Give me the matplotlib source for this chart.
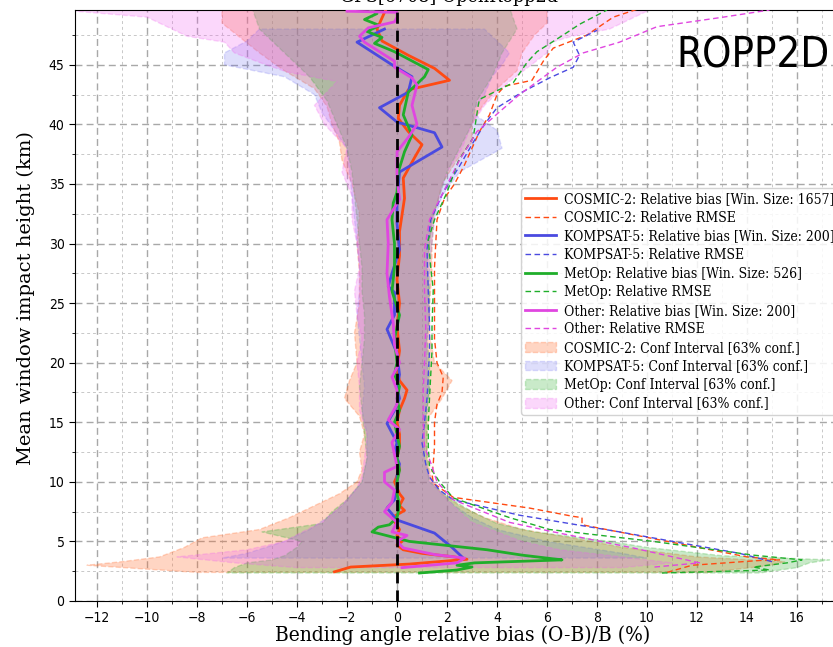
import matplotlib
matplotlib.use("Agg")
import matplotlib.pyplot as plt
from matplotlib.lines import Line2D
from matplotlib.patches import Patch
from matplotlib.ticker import MultipleLocator

# ---------------- data ----------------
series_names = ["COSMIC-2", "KOMPSAT-5", "MetOp", "Other"]
win_sizes = [1657, 200, 526, 200]

# relative bias profiles (height km, value %)
cos_bias_h = [2.45, 2.85, 3.1, 3.5, 3.7, 4.0, 4.3, 4.7, 5.0, 5.5, 6.0, 7.0, 7.6, 8.0, 8.6, 9.0, 10.0, 11, 12, 13, 14, 15, 16, 17, 17.7,
              18.5, 19.5, 21, 23, 25, 27, 29, 31, 33.8, 35.5, 37.2, 38.3, 39.4, 40.5, 41.6, 42.9, 43.7, 44.7, 45.8,
              47.0, 48.0, 49.4, 49.8]
cos_bias_x = [-2.5, -1.85, 0.5, 2.8, 2.3, 1.0, 0.25, 0.0, 0.2, 0.0, 0.1, -0.2, 0.3, 0.1, 0.25, 0.1, -0.1, 0.1, 0.0, 0.1, 0.1, 0.0, 0.1,
              0.3, 0.4, 0.1, 0.0, 0.1, 0.0, 0.1, 0.0, 0.1, 0.1, 0.3, 0.25, 0.7, 1.0, 0.45, 0.05, 0.1, 0.45, 2.1,
              1.5, 0.45, -0.6, -0.8, -0.5, -0.4]

kom_bias_h = [3.6, 4.5, 5.7, 6.8, 7.8, 8.5, 9.5, 10.5, 11.5, 12.5, 13.3, 14.9, 16, 17, 18, 19, 20.8, 22.8, 24, 25.9,
              26.4, 27.5, 29.5, 31.7, 33.5, 36.0, 38.1, 39.3, 40.2, 41.4, 42.7, 44.0, 45.0, 46.9, 48.0]
kom_bias_x = [2.65, 2.2, 1.5, 0.0, -0.4, -0.1, 0.0, 0.0, 0.1, -0.1, 0.0, -0.4, -0.1, 0.1, 0.0, 0.1, 0.0, -0.4, -0.1,
              -0.1, -0.35, -0.2, 0.1, 0.0, 0.0, 0.1, 1.8, 1.5, 0.0, -0.7, 0.45, 0.6, -0.2, -1.6, -0.5]

met_bias_h = [2.35, 2.6, 2.85, 3.0, 3.2, 3.45, 3.6, 3.85, 4.3, 5.0, 5.7, 5.8, 6.2, 6.4, 7, 8, 9, 10, 11, 12, 13, 14, 15,
              16, 17, 18, 19, 20, 22, 24, 26, 28, 30, 32, 33.4, 34.3, 36.0, 37.7, 39.1, 40.8, 42.7, 44.0, 44.6,
              46.1, 46.8, 47.3, 47.8, 48.3, 48.8, 49.3, 49.8]
met_bias_x = [0.9, 2.4, 3.0, 2.4, 3.1, 6.6, 6.0, 5.0, 3.6, 0.5, -0.8, -1.0, -0.75, -0.3, 0.0, 0.1, 0.0, 0.0, 0.1, 0.0,
              0.1, 0.0, -0.1, 0.1, 0.0, 0.1, -0.1, 0.0, -0.1, 0.1, -0.2, -0.1, -0.1, -0.2, -0.15, 0.0, 0.05, 0.3,
              0.6, 0.25, 0.45, 1.1, 1.25, -0.1, -0.9, -0.6, -1.2, -0.7, -1.3, -0.8, -1.2]

oth_bias_h = [2.8, 3.2, 3.6, 3.9, 4.45, 5.0, 5.5, 5.8, 6.6, 7.5, 8.3, 9.3, 10.0, 10.8, 11.3, 12.3, 13.3, 14.4, 15.2,
              16.5, 17.7, 18.8, 20.0, 21.5, 23.3, 25.5, 27.5, 30, 32.0, 33.7, 35.5, 37.7, 38.9, 40.0, 41.6, 43.3,
              43.9, 44.8, 45.3, 46.9, 47.4, 48.1, 48.6, 49.0, 49.4, 49.5]
oth_bias_x = [0.2, 2.4, 2.7, 1.5, 0.25, 0.0, 0.4, -0.2, 0.0, -0.5, -0.2, -0.1, -0.5, -0.5, 0.0, -0.1, -0.2, 0.1, -0.35,
              0.0, 0.0, -0.2, 0.1, -0.1, -0.15, -0.3, -0.4, -0.35, -0.4, 0.1, 0.0, 0.0, 0.45, 0.8, 0.6, 0.8, 0.6,
              -0.1, -0.1, -1.3, -1.5, -1.15, -0.1, 0.0, 0.0, -2.0]

# relative RMSE profiles
cos_rmse_h = [2.4, 3.0, 3.4, 3.45, 3.7, 6.4, 7.0, 7.1, 7.8, 8.7, 9.9, 10.7, 11.5, 13, 15, 16.5, 17.5, 18.8, 20, 22,
              24, 26, 28, 30, 32, 33.8, 35, 36.6, 38, 39.4, 40.8, 42.5, 43.2, 43.7, 45.3, 46.4, 47.5, 49.0, 49.8]
cos_rmse_x = [10.8, 11.8, 14.5, 15.3, 14.0, 7.4, 7.4, 7.05, 5.3, 2.25, 1.45, 1.4, 1.45, 1.5, 1.5, 1.6, 1.8, 1.85,
              1.6, 1.5, 1.5, 1.5, 1.5, 1.55, 1.6, 1.9, 2.3, 2.7, 3.0, 3.3, 3.7, 4.0, 4.3, 5.4, 5.85, 6.25, 7.6,
              8.65, 9.8]

kom_rmse_h = [3.3, 4.0, 5.8, 7.2, 8.5, 9.3, 10.4, 11.5, 13.3, 15, 17, 18.8, 21, 23.3, 26, 29.5, 32, 34.3, 36.5, 38.5,
              40, 41.4, 42.7, 43.9, 44.8, 45.8, 46.9, 47.9]
kom_rmse_x = [15.0, 13.7, 8.9, 4.9, 2.25, 1.7, 1.3, 1.15, 1.0, 1.1, 1.2, 1.25, 1.3, 1.3, 1.25, 1.2, 1.35, 1.85, 2.5,
              3.05, 3.5, 4.0, 5.0, 6.1, 7.05, 7.3, 7.05, 8.0]

met_rmse_h = [2.35, 2.6, 2.85, 3.2, 3.45, 3.85, 5.0, 6.0, 7.0, 8.65, 10, 11.3, 13, 14.9, 17, 19, 21, 23, 26.1, 28,
              30.3, 32, 34.3, 36.9, 38.9, 41.6, 42.1, 43.5, 45.2, 46.1, 47.5, 48.4, 49.0, 49.6]
met_rmse_x = [10.6, 14.9, 14.25, 15.6, 16.2, 14.25, 10.25, 6.1, 4.5, 2.25, 1.7, 1.3, 1.25, 1.25, 1.3, 1.35, 1.4, 1.4,
              1.45, 1.35, 1.25, 1.5, 2.0, 2.45, 3.05, 3.25, 3.3, 4.65, 5.2, 5.6, 6.65, 7.3, 7.85, 8.4]

oth_rmse_h = [2.85, 3.2, 4.45, 5.8, 6.6, 8.5, 10, 11.3, 13, 15, 17.7, 20, 23, 26, 29.5, 32, 34.3, 37, 39.4, 41.6,
              42.5, 44.8, 46.0, 46.9, 48.2, 49.0, 49.6]
oth_rmse_x = [10.3, 12.1, 9.45, 6.25, 4.5, 2.25, 1.6, 1.4, 1.1, 1.05, 1.05, 1.1, 1.15, 1.1, 1.1, 1.3, 1.85, 2.5, 3.2,
              4.4, 4.9, 6.4, 7.45, 8.9, 10.4, 13.05, 14.9]

# confidence intervals (63%)
cos_ci_h = [2.4, 3.0, 3.3, 3.7, 4.5, 5.3, 6.0, 7.0, 8.0, 9.0, 10.0, 11, 12.5, 14, 15.5, 17, 18.5, 20, 22.5, 25, 27.5,
            30, 32.5, 35, 37, 38.5, 40, 41.5, 43, 44.5, 46, 47.5, 48.5, 49.8]
cos_ci_lo = [-8.0, -12.4, -11.0, -9.5, -8.5, -7.8, -5.5, -4.3, -3.3, -2.3, -1.6, -1.4, -1.5, -1.3, -1.5, -2.1, -1.9,
             -1.6, -1.7, -1.5, -1.5, -1.6, -1.5, -1.8, -2.2, -2.3, -2.6, -2.8, -3.3, -4.5, -5.5, -6.4, -7.0, -7.0]
cos_ci_hi = [12.5, 15.0, 15.5, 12.0, 9.0, 7.0, 5.0, 3.5, 2.5, 1.8, 1.4, 1.3, 1.2, 1.2, 1.3, 1.8, 2.2, 1.5, 1.3, 1.3,
             1.4, 1.4, 1.5, 1.8, 2.4, 3.0, 3.0, 3.4, 4.0, 4.8, 5.0, 5.5, 6.0, 6.0]

kom_ci_h = [3.6, 4.0, 5.0, 6.0, 7.0, 8.0, 9.0, 10, 12, 14, 16, 18, 20, 22, 24, 26, 28, 30, 32, 34, 36, 38, 39.5, 41,
            42.5, 44, 45, 46, 47, 48]
kom_ci_lo = [-7.0, -6.0, -4.5, -3.5, -2.8, -2.2, -1.8, -1.4, -1.2, -1.2, -1.4, -1.3, -1.4, -1.5, -1.6, -1.5, -1.5,
             -1.6, -1.7, -1.8, -1.9, -2.0, -2.5, -3.0, -3.3, -4.5, -6.9, -6.9, -6.0, -5.5]
kom_ci_hi = [10.0, 9.0, 6.0, 4.0, 3.0, 2.3, 1.8, 1.3, 1.1, 1.1, 1.2, 1.3, 1.2, 1.2, 1.3, 1.3, 1.3, 1.4, 1.5, 1.8, 2.5,
             4.2, 4.0, 3.0, 3.5, 3.8, 4.2, 4.5, 4.0, 3.5]

met_ci_h = [2.35, 2.8, 3.2, 3.45, 3.8, 4.5, 5.0, 5.8, 6.5, 7.5, 8.5, 10, 12, 14, 16, 18, 20, 22, 24, 26, 28, 30, 32,
            34, 36, 38, 40, 42, 44, 46, 48, 49.8]
met_ci_lo = [-6.8, -6.5, -6.0, -5.0, -4.5, -4.0, -3.8, -5.4, -3.0, -2.6, -2.0, -1.4, -1.2, -1.3, -1.4, -1.5, -1.4,
             -1.3, -1.3, -1.4, -1.4, -1.5, -1.6, -1.7, -1.8, -2.0, -2.4, -2.8, -3.5, -4.5, -5.5, -5.8]
met_ci_hi = [14.5, 16.0, 16.5, 17.3, 13.0, 10.0, 8.5, 5.5, 4.0, 3.0, 2.2, 1.3, 1.2, 1.2, 1.2, 1.3, 1.3, 1.2, 1.3, 1.3,
             1.2, 1.3, 1.4, 1.7, 2.0, 2.5, 3.0, 3.2, 3.8, 4.2, 4.8, 4.5]

oth_ci_h = [2.8, 3.2, 3.7, 4.3, 5.0, 5.8, 6.6, 7.5, 8.5, 9.5, 10.5, 12, 14, 16, 18, 20, 22, 24, 26, 28, 30, 32, 34, 36,
            38, 40, 41.6, 43.6, 44.4, 45.2, 46.0, 46.9, 47.4, 48.0, 49.0, 49.5, 49.8]
oth_ci_lo = [-4.0, -6.5, -8.8, -6.0, -4.5, -3.8, -3.0, -2.5, -2.0, -1.6, -1.4, -1.3, -1.2, -1.5, -1.5, -1.6, -1.4,
             -1.6, -1.7, -1.5, -1.6, -1.8, -1.8, -2.2, -2.0, -2.9, -3.3, -2.4, -4.4, -5.5, -6.5, -6.9, -8.4, -9.0,
             -10.0, -12.9, -12.9]
oth_ci_hi = [9.0, 11.0, 9.0, 6.5, 5.0, 4.0, 3.0, 2.5, 2.0, 1.6, 1.3, 1.1, 1.1, 1.1, 1.2, 1.2, 1.2, 1.3, 1.2, 1.2, 1.3,
             1.4, 1.7, 2.0, 2.6, 3.0, 3.5, 4.5, 5.0, 5.5, 6.0, 6.2, 7.0, 8.5, 9.5, 10.0, 10.0]

x_ticks = list(range(-12, 17, 2))
y_ticks = list(range(0, 50, 5))

# ---------------- styling ----------------
colors = ["#ff4a12", "#4a4ae0", "#1fae2a", "#e046e0"]
fill_colors = ["#ff6a2a", "#6a6af0", "#2aae2a", "#f060f0"]
fill_alpha = [0.28, 0.22, 0.25, 0.25]

COND = "condensed"

fig = plt.figure(figsize=(8.33, 6.47), dpi=100)
ax = fig.add_axes([75 / 833, 1 - 601 / 647, 775 / 833, 591 / 647])

bias = [(cos_bias_h, cos_bias_x), (kom_bias_h, kom_bias_x), (met_bias_h, met_bias_x), (oth_bias_h, oth_bias_x)]
rmse = [(cos_rmse_h, cos_rmse_x), (kom_rmse_h, kom_rmse_x), (met_rmse_h, met_rmse_x), (oth_rmse_h, oth_rmse_x)]
cis = [(cos_ci_h, cos_ci_lo, cos_ci_hi), (kom_ci_h, kom_ci_lo, kom_ci_hi),
       (met_ci_h, met_ci_lo, met_ci_hi), (oth_ci_h, oth_ci_lo, oth_ci_hi)]

for i, (h, lo, hi) in enumerate(cis):
    ax.fill_betweenx(h, lo, hi, color=fill_colors[i], alpha=fill_alpha[i], linestyle="--", linewidth=1, zorder=1)

for i, (h, x) in enumerate(rmse):
    ax.plot(x, h, color=colors[i], linestyle=(0, (4, 2.5)), linewidth=1.0, zorder=3)

for i, (h, x) in enumerate(bias):
    ax.plot(x, h, color=colors[i], linewidth=2.0, zorder=4)

ax.axvline(0, color="black", linestyle=(0, (4, 2.5)), linewidth=2.0, zorder=6)

ax.set_xlim(-12.88, 18.12)
ax.set_ylim(0, 49.6)
ax.set_xticks(x_ticks)
ax.set_yticks(y_ticks)
ax.xaxis.set_minor_locator(MultipleLocator(1))
ax.yaxis.set_minor_locator(MultipleLocator(2.5))
ax.grid(which="major", linestyle=(0, (5, 3)), color="#a8a8a8", linewidth=1.0, zorder=0)
ax.grid(which="minor", linestyle=(0, (3, 3)), color="#c8c8c8", linewidth=0.7, zorder=0)
ax.set_axisbelow(True)
ax.tick_params(which="major", length=4, labelsize=10)
ax.tick_params(which="minor", length=2)
for lab in ax.get_xticklabels() + ax.get_yticklabels():
    lab.set_fontstretch(COND)

ax.set_xlabel("Bending angle relative bias (O-B)/B (%)", family="DejaVu Serif", fontstretch=COND,
              fontsize=15, labelpad=0)
ax.set_ylabel("Mean window impact height (km)", family="DejaVu Serif", fontsize=14, labelpad=5)
ax.yaxis.set_label_coords(-(75 - 35) / 775, (601 - 298) / 591)

fig.text(449 / 833, 1 - 2 / 647, "GPS[6708] OpenRopp2d", ha="center", va="baseline",
         family="DejaVu Serif", fontstretch=COND, fontsize=14)
ax.text((676 - 75) / 775, (601 - 68) / 591, "ROPP2D", transform=ax.transAxes, fontsize=30,
        family="DejaVu Sans", fontstretch=COND, ha="left", va="baseline", zorder=7)

handles = []
labels = []
for i, name in enumerate(series_names):
    handles.append(Line2D([], [], color=colors[i], linewidth=2.0))
    labels.append(f"{name}: Relative bias [Win. Size: {win_sizes[i]}]")
    handles.append(Line2D([], [], color=colors[i], linewidth=1.0, linestyle=(0, (4, 2.5))))
    labels.append(f"{name}: Relative RMSE")
for i, name in enumerate(series_names):
    handles.append(Patch(facecolor=fill_colors[i], alpha=fill_alpha[i], edgecolor=fill_colors[i], linestyle="--"))
    labels.append(f"{name}: Conf Interval [63% conf.]")

leg = ax.legend(handles, labels, loc="upper left", bbox_to_anchor=(521 / 833, 1 - 188 / 647),
                bbox_transform=fig.transFigure, prop={"family": "DejaVu Serif", "stretch": COND, "size": 10},
                labelspacing=0.33, handlelength=2.2, handletextpad=0.6, framealpha=0.85, borderpad=0.3,
                borderaxespad=0)
leg.set_zorder(8)

fig.savefig("out.png", dpi=100)
